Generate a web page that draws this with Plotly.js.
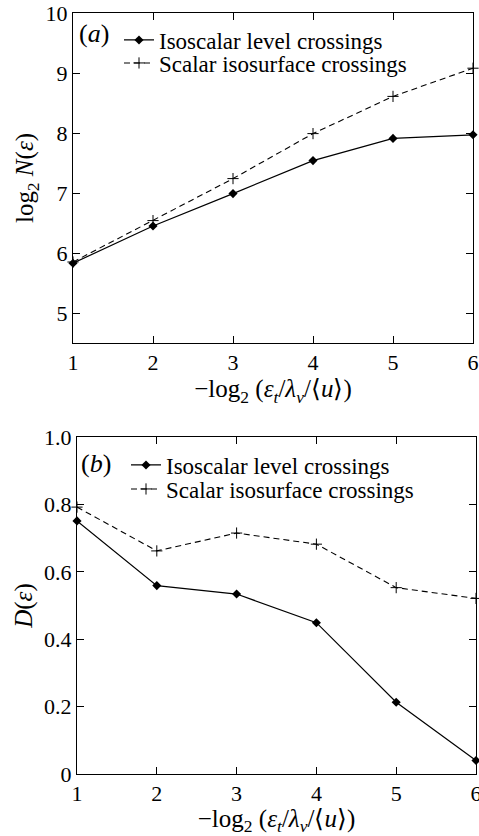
<!DOCTYPE html>
<html><head><meta charset="utf-8">
<script src="https://cdn.plot.ly/plotly-3.0.1.min.js"></script>
<style>body{margin:0;background:#fff}#c{width:479px;height:836px}</style>
</head><body><div id="c"></div>
<script>
const xVals = [1, 2, 3, 4, 5, 6];
const isoLogN = [5.83, 6.45, 6.99, 7.54, 7.91, 7.97];
const surfLogN = [5.85, 6.54, 7.24, 7.99, 8.61, 9.08];
const isoD = [0.751, 0.559, 0.534, 0.449, 0.213, 0.040];
const surfD = [0.792, 0.662, 0.715, 0.682, 0.553, 0.521];
const isoName = 'Isoscalar level crossings';
const surfName = 'Scalar isosurface crossings';
const dTickVals = [0, 0.2, 0.4, 0.6, 0.8, 1.0];
const dTickText = ['0', '0.2', '0.4', '0.6', '0.8', '1.0'];

const W = 479, H = 836;
const fam = '"Liberation Serif", "Times New Roman", serif';
const font = {family: fam, color: '#000', size: 22};
const isoStyle = {mode: 'lines+markers', line: {color: '#000', width: 1.2},
  marker: {symbol: 'diamond', size: 7, color: '#000'}, cliponaxis: false};
const surfStyle = {mode: 'lines+markers', line: {color: '#000', width: 1.1, dash: '6px,4px'},
  marker: {symbol: 'cross-thin-open', size: 8, line: {color: '#000', width: 1}}, cliponaxis: false};

const traces = [
  Object.assign({x: xVals, y: isoLogN, name: isoName, xaxis: 'x', yaxis: 'y', legend: 'legend'}, isoStyle),
  Object.assign({x: xVals, y: surfLogN, name: surfName, xaxis: 'x', yaxis: 'y', legend: 'legend2'}, surfStyle),
  Object.assign({x: xVals, y: isoD, name: isoName, xaxis: 'x2', yaxis: 'y2', legend: 'legend3'}, isoStyle),
  Object.assign({x: xVals, y: surfD, name: surfName, xaxis: 'x2', yaxis: 'y2', legend: 'legend4'}, surfStyle)
];

const axBase = {showline: true, linecolor: '#000', linewidth: 1, mirror: 'ticks', ticks: 'inside',
  ticklen: 7, tickcolor: '#000', showgrid: false, zeroline: false, tickfont: font, fixedrange: true,
  ticklabeloverflow: 'allow'};
const titleFont = {family: fam, size: 25, color: '#000'};
const xTitle = '\u2212log<sub>2</sub> (<i>\u03b5<sub>t</sub></i>/<i>\u03bb<sub>v</sub></i>/\u27e8<i>u</i>\u27e9)';

function leg(xpx, ypx) {
  return {x: xpx/W, y: (H-ypx)/H, xanchor: 'left', yanchor: 'middle', bgcolor: 'rgba(0,0,0,0)',
    font: {family: fam, size: 23, color: '#000'}, tracegroupgap: 0};
}

const layout = {
  width: W, height: H, margin: {l: 0, r: 0, t: 0, b: 0},
  paper_bgcolor: '#fff', plot_bgcolor: '#fff', font: font,
  xaxis: Object.assign({}, axBase, {domain: [73/W, 473/W], range: [1, 6], anchor: 'y', dtick: 1,
    title: {text: xTitle, font: titleFont, standoff: 4}}),
  yaxis: Object.assign({}, axBase, {domain: [(H-343)/H, (H-13)/H], range: [4.5, 10], anchor: 'x', dtick: 1,
    title: {text: 'log<sub>2</sub> <i>N</i>(<i>\u03b5</i>)', font: titleFont, standoff: 4}}),
  xaxis2: Object.assign({}, axBase, {domain: [77/W, 476/W], range: [1, 6], anchor: 'y2', dtick: 1,
    title: {text: xTitle, font: titleFont, standoff: 4}}),
  yaxis2: Object.assign({}, axBase, {domain: [(H-774)/H, (H-437)/H], range: [0, 1], anchor: 'x2',
    tickvals: dTickVals, ticktext: dTickText,
    title: {text: '<i>D</i>(<i>\u03b5</i>)', font: titleFont, standoff: 4}}),
  showlegend: true,
  legend: leg(119, 40),
  legend2: leg(119, 63),
  legend3: leg(126, 465),
  legend4: leg(126, 489),
  annotations: [
    {text: '(<i>a</i>)', xref: 'paper', yref: 'paper', x: 77/W, y: (H-33)/H, xanchor: 'left', yanchor: 'middle', showarrow: false, font: {family: fam, size: 26, color: '#000'}},
    {text: '(<i>b</i>)', xref: 'paper', yref: 'paper', x: 79/W, y: (H-463)/H, xanchor: 'left', yanchor: 'middle', showarrow: false, font: {family: fam, size: 26, color: '#000'}}
  ]
};
Plotly.newPlot('c', traces, layout, {staticPlot: true});
</script></body></html>
